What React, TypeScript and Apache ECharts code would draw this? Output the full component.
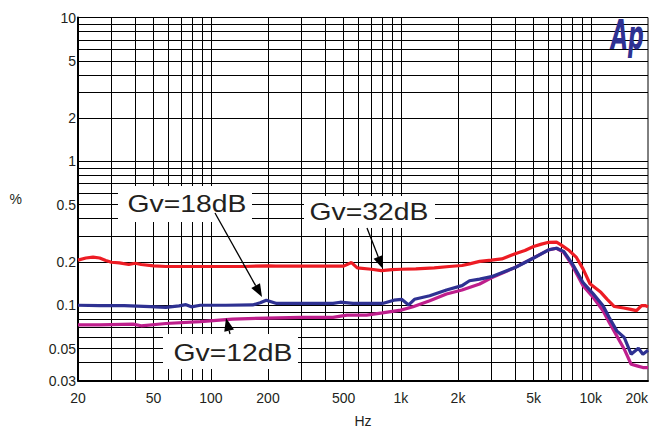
import React, { useEffect, useRef } from "react";
import * as echarts from "echarts";

// Frequency axis (Hz)
const xLabelValues = [20, 50, 100, 200, 500, 1000, 2000, 5000, 10000, 20000];
const xLabelTexts = ["20", "50", "100", "200", "500", "1k", "2k", "5k", "10k", "20k"];
const xGridValues = [30, 40, 50, 60, 70, 80, 90, 100, 200, 300, 400, 500, 600, 700, 800, 900, 1000, 2000, 3000, 4000, 5000, 6000, 7000, 8000, 9000, 10000];

// THD+N axis (%)
const yLabelValues = [0.03, 0.05, 0.1, 0.2, 0.5, 1, 2, 5, 10];
const yLabelTexts = ["0.03", "0.05", "0.1", "0.2", "0.5", "1", "2", "5", "10"];
const yGridValues = [0.04, 0.05, 0.06, 0.07, 0.08, 0.09, 0.1, 0.2, 0.3, 0.4, 0.5, 0.6, 0.7, 0.8, 0.9, 1, 2, 3, 4, 5, 6, 7, 8, 9];

// Series: [Hz, %]
const gv32: [number, number][] = [
  [20, 0.206], [22, 0.213], [24, 0.216], [26, 0.213], [28, 0.205], [30, 0.199], [33, 0.197], [37, 0.192],
  [40, 0.196], [43, 0.192], [50, 0.188], [58, 0.186], [70, 0.186], [100, 0.186], [150, 0.186], [200, 0.188],
  [220, 0.187], [300, 0.187], [400, 0.187], [500, 0.187], [550, 0.198], [590, 0.182], [700, 0.178], [790, 0.174],
  [900, 0.177], [1000, 0.178], [1200, 0.179], [1500, 0.182], [1800, 0.186], [2100, 0.189], [2300, 0.194],
  [2600, 0.202], [3000, 0.206], [3400, 0.21], [4000, 0.228], [4500, 0.24], [5000, 0.256], [5500, 0.266],
  [6000, 0.274], [6600, 0.275], [7000, 0.262], [7700, 0.24], [8400, 0.215], [9100, 0.179], [9900, 0.141],
  [11300, 0.123], [12200, 0.11], [13300, 0.098], [14900, 0.0957], [16000, 0.094], [17400, 0.0917],
  [18500, 0.0995], [19300, 0.0995], [20000, 0.0977],
];
const gv18: [number, number][] = [
  [20, 0.1], [26, 0.0995], [35, 0.0995], [48, 0.098], [58, 0.0966], [68, 0.099], [74, 0.101], [79, 0.0975],
  [88, 0.1], [120, 0.1], [166, 0.1005], [182, 0.104], [196, 0.1085], [222, 0.103], [300, 0.103], [440, 0.103],
  [480, 0.105], [560, 0.103], [800, 0.103], [920, 0.1085], [1010, 0.11], [1100, 0.1005], [1180, 0.11],
  [1420, 0.1165], [1740, 0.1276], [2100, 0.137], [2300, 0.148], [2600, 0.152], [3000, 0.158], [4000, 0.183],
  [5000, 0.213], [6000, 0.243], [6600, 0.249], [7200, 0.237], [8000, 0.194], [9100, 0.144], [10300, 0.12],
  [11600, 0.0993], [12500, 0.0823], [13700, 0.0664], [15000, 0.0597], [16300, 0.0457], [17800, 0.0503],
  [18800, 0.0457], [20000, 0.0487],
];
const gv12: [number, number][] = [
  [20, 0.0731], [26, 0.0731], [39, 0.074], [43, 0.072], [58, 0.0747], [88, 0.077], [130, 0.08], [196, 0.0815],
  [300, 0.0823], [440, 0.0823], [520, 0.0855], [660, 0.0855], [800, 0.0885], [1000, 0.0925], [1160, 0.0977],
  [1420, 0.1075], [1740, 0.1197], [2100, 0.1276], [2600, 0.1406], [3000, 0.155], [4000, 0.1834],
  [5000, 0.2133], [6000, 0.2426], [6600, 0.249], [7200, 0.2333], [8000, 0.1885], [9100, 0.1368],
  [10300, 0.1133], [11600, 0.0917], [12500, 0.0759], [13700, 0.0613], [15000, 0.0495], [16300, 0.0389],
  [17500, 0.0379], [18800, 0.0369], [20000, 0.0369],
];

const FONT = "'Liberation Sans', Arial, sans-serif";
const lg = (v: number) => Math.log10(v);
const toLog = (pts: [number, number][]) => pts.map(([f, v]) => [lg(f), lg(v)]);
const findText = (vals: number[], texts: string[], v: number) => {
  const i = vals.findIndex((x) => Math.abs(lg(x) - v) < 1e-6);
  return i >= 0 ? texts[i] : "";
};

function arrow(x1: number, y1: number, x2: number, y2: number) {
  const dx = x2 - x1, dy = y2 - y1;
  const len = Math.sqrt(dx * dx + dy * dy);
  const ux = dx / len, uy = dy / len;
  const hl = 13, hw = 5;
  const bx = x2 - ux * hl, by = y2 - uy * hl;
  return [
    { type: "line", z: 12, shape: { x1, y1, x2: bx, y2: by }, style: { stroke: "#000", lineWidth: 1.3 } },
    {
      type: "polygon", z: 12,
      shape: { points: [[x2, y2], [bx - uy * hw, by + ux * hw], [bx + uy * hw, by - ux * hw]] },
      style: { fill: "#000" },
    },
  ];
}

function label(text: string, cx: number, cy: number, box: [number, number, number, number]) {
  return [
    { type: "rect", z: 10, shape: { x: box[0], y: box[1], width: box[2], height: box[3] }, style: { fill: "#fff" } },
    {
      type: "text", z: 11, x: cx, y: cy, scaleX: 1.18,
      style: { text, fill: "#231f20", font: `24px ${FONT}`, align: "center", verticalAlign: "middle" },
    },
  ];
}

export default function App() {
  const ref = useRef<HTMLDivElement>(null);
  useEffect(() => {
    document.body.style.margin = "0";
    const chart = echarts.init(ref.current!, null, { renderer: "svg" });
    const axisText = { color: "#231f20", fontSize: 14, fontFamily: FONT };
    chart.setOption({
      animation: false,
      backgroundColor: "#fff",
      grid: {
        left: 78, right: 13, top: 17.5, bottom: 50.5,
        show: true, borderColor: "#000", borderWidth: 1,
        containLabel: false, outerBoundsMode: "none",
      },
      xAxis: {
        type: "value",
        min: lg(20), max: lg(20000),
        name: "Hz", nameLocation: "middle", nameGap: 33,
        nameTextStyle: axisText,
        axisLine: { show: true, onZero: false, lineStyle: { color: "#000", width: 2 } },
        axisTick: { show: false, customValues: xGridValues.map(lg) },
        splitLine: { show: true, lineStyle: { color: "#000", width: 1 } },
        axisLabel: {
          ...axisText, margin: 10,
          customValues: xLabelValues.map(lg),
          alignMaxLabel: "right",
          formatter: (v: number) => findText(xLabelValues, xLabelTexts, v),
        },
      },
      yAxis: {
        type: "value",
        min: lg(0.03), max: lg(10),
        name: "%", nameLocation: "middle", nameGap: 56, nameRotate: 0,
        nameTextStyle: axisText,
        axisLine: { show: true, onZero: false, lineStyle: { color: "#000", width: 2 } },
        axisTick: { show: false, customValues: yGridValues.map(lg) },
        splitLine: { show: true, lineStyle: { color: "#000", width: 1 } },
        axisLabel: {
          ...axisText, margin: 2,
          customValues: yLabelValues.map(lg),
          formatter: (v: number) => findText(yLabelValues, yLabelTexts, v),
        },
      },
      series: [
        { name: "Gv=32dB", type: "line", data: toLog(gv32), showSymbol: false, lineStyle: { color: "#ed1c24", width: 3.2 }, z: 4 },
        { name: "Gv=18dB", type: "line", data: toLog(gv18), showSymbol: false, lineStyle: { color: "#2e3192", width: 3.2 }, z: 3 },
        { name: "Gv=12dB", type: "line", data: toLog(gv12), showSymbol: false, lineStyle: { color: "#be1e8c", width: 3.2 }, z: 2 },
      ],
      graphic: [
        ...label("Gv=18dB", 187, 203.5, [118, 186, 134, 36]),
        ...label("Gv=32dB", 369, 212, [304, 196, 131, 32]),
        ...label("Gv=12dB", 233, 352.5, [163, 334, 135, 35]),
        ...arrow(215, 213, 262, 297),
        ...arrow(367, 228, 383, 269),
        ...arrow(230, 334, 226, 318),
        {
          type: "text", z: 12, x: 611, y: 35, scaleX: 0.55,
          style: { text: "Ap", fill: "#2e3192", font: `italic bold 40px 'DejaVu Sans', sans-serif`, align: "left", verticalAlign: "middle" },
        },
      ],
    });
    return () => chart.dispose();
  }, []);
  return <div ref={ref} style={{ position: "absolute", left: 0, top: 0, width: 661, height: 431 }} />;
}
